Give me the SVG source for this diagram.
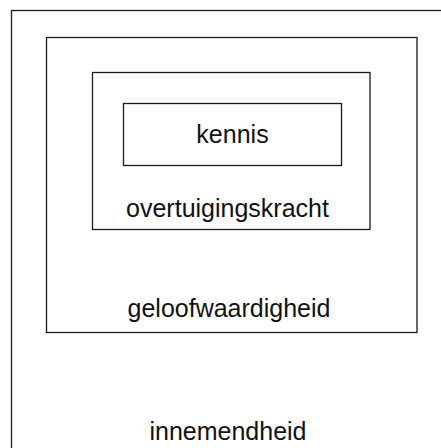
<svg xmlns="http://www.w3.org/2000/svg" width="441" height="448" viewBox="0 0 441 448">
  <style>
    .box { fill: none; stroke: #1a1a1a; stroke-width: 1.3; }
    .label { font-family: "Liberation Sans", Arial, sans-serif; font-size: 25px; fill: #111; text-anchor: middle; }
  </style>
  <rect width="441" height="448" fill="#fff"/>
  <!-- nested layers, outermost first -->
  <g id="innemendheid">
    <rect class="box" x="11.5" y="10.5" width="460" height="470"/>
    <text class="label" x="228" y="440">innemendheid</text>
  </g>
  <g id="geloofwaardigheid">
    <rect class="box" x="46.5" y="37.5" width="370.5" height="295"/>
    <text class="label" x="229" y="317">geloofwaardigheid</text>
  </g>
  <g id="overtuigingskracht">
    <rect class="box" x="92.5" y="72.5" width="277.5" height="157"/>
    <text class="label" x="227.5" y="217">overtuigingskracht</text>
  </g>
  <g id="kennis">
    <rect class="box" x="123.5" y="103.5" width="218" height="62"/>
    <text class="label" x="232.5" y="143">kennis</text>
  </g>
  <g id="connectors"/>
</svg>
